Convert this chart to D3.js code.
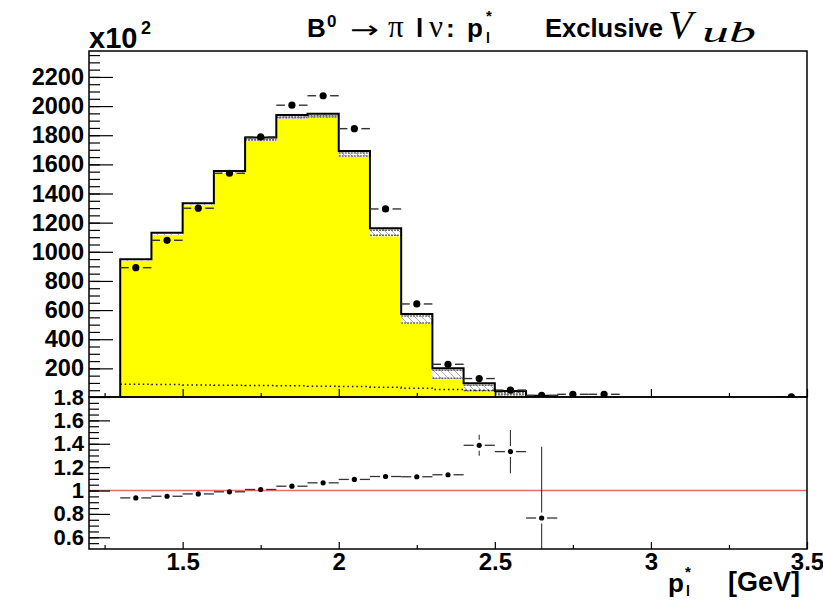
<!DOCTYPE html>
<html><head><meta charset="utf-8">
<script src="https://cdn.jsdelivr.net/npm/d3@7"></script>
<style>body{margin:0;background:#fff} svg{display:block}</style>
</head><body>
<svg id="c" width="823" height="600"></svg>
<script>
// ---- data (units of x10^2) ----
const binLow   = [1.3,1.4,1.5,1.6,1.7,1.8,1.9,2.0,2.1,2.2,2.3,2.4,2.5,2.6];
const binWidth = 0.1;
const mcTotal  = [948,1131,1333,1555,1784,1939,1948,1692,1161,573,200,97,45,12];
const mcSignal = [938,1115,1318,1541,1760,1913,1918,1651,1106,504,125,40,12,3];
const mcDotted = [91,89,86,84,82,80,77,75,71,64,55,50,40,10];
const dataX = [1.35,1.45,1.55,1.65,1.75,1.85,1.95,2.05,2.15,2.25,2.35,2.45,2.55,2.65,2.75,2.85,3.45];
const dataY = [891,1079,1299,1539,1788,2006,2071,1845,1294,642,228,130,51,14,22,22,5];
const ratioX = [1.35,1.45,1.55,1.65,1.75,1.85,1.95,2.05,2.15,2.25,2.35,2.45,2.55,2.65];
const ratioY = [0.937,0.951,0.971,0.989,1.009,1.037,1.066,1.095,1.12,1.118,1.135,1.387,1.333,0.765];
const ratioErr = [0.005,0.005,0.005,0.005,0.005,0.005,0.005,0.006,0.008,0.012,0.03,0.09,0.185,0.61];
const topTickVals = [200,400,600,800,1000,1200,1400,1600,1800,2000,2200];
const ratioTickVals = [0.6,0.8,1,1.2,1.4,1.6,1.8];
const xMajorVals = [1.5,2,2.5,3,3.5];
const xMinorVals = [1.25,1.75,2.25,2.75,3.25];

// ---- layout ----
const L=89, R=807, T=51, M=397, B=549;
const svg = d3.select("#c");
const x  = d3.scaleLinear().domain([1.2,3.5]).range([L,R]);
const yT = d3.scaleLinear().domain([0,2378]).range([397.5,T]);
const yB = d3.scaleLinear().domain([0.5,1.8]).range([B,M]);
const SANS = "'Liberation Sans', Arial, Helvetica, sans-serif";
const SERIF = "'Liberation Serif', 'Times New Roman', serif";

const defs = svg.append("defs");
const pat = defs.append("pattern").attr("id","hatch").attr("patternUnits","userSpaceOnUse")
  .attr("width",7).attr("height",7);
pat.append("rect").attr("width",7).attr("height",7).attr("fill","#fff");
pat.append("path").attr("d","M0,0 L7,7 M-2,5 L2,9 M5,-2 L9,2").attr("stroke","#999").attr("stroke-width",0.8);
defs.append("clipPath").attr("id","clipT").append("rect").attr("x",L).attr("y",T).attr("width",R-L).attr("height",M-T);
defs.append("clipPath").attr("id","clipB").append("rect").attr("x",L).attr("y",M).attr("width",R-L).attr("height",B-M);

// ---- top panel ----
const gT = svg.append("g").attr("clip-path","url(#clipT)");
const lastHi = binLow[binLow.length-1]+binWidth;
const sigPts = binLow.map((lo,i)=>[lo,mcSignal[i]]).concat([[lastHi, mcSignal[mcSignal.length-1]]]);
gT.append("path").attr("d", d3.area().x(d=>x(d[0])).y0(yT(0)).y1(d=>yT(d[1])).curve(d3.curveStepAfter)(sigPts))
  .attr("fill","#ffff00").attr("stroke","none");
binLow.forEach((lo,i)=>{
  const x0=x(lo), x1=x(lo+binWidth);
  const yt=yT(mcTotal[i]), yb=yT(mcSignal[i]);
  if (yb-yt>0.5){
    gT.append("rect").attr("x",x0).attr("y",yt).attr("width",x1-x0).attr("height",yb-yt).attr("fill","url(#hatch)");
    if (yb-yt>3){
      gT.append("line").attr("x1",x0).attr("x2",x1).attr("y1",yt+2).attr("y2",yt+2)
        .attr("stroke","#666").attr("stroke-width",1.5).attr("stroke-dasharray","2,1");
      gT.append("line").attr("x1",x0).attr("x2",x1).attr("y1",yb-1).attr("y2",yb-1)
        .attr("stroke","#666").attr("stroke-width",1.5).attr("stroke-dasharray","2,1");
    }
  }
});
// dotted component
const dotPts = binLow.map((lo,i)=>[lo,mcDotted[i]]).concat([[lastHi, mcDotted[mcDotted.length-1]]]);
gT.append("path").attr("d", d3.line().x(d=>x(d[0])).y(d=>yT(d[1])).curve(d3.curveStepAfter)(dotPts))
  .attr("fill","none").attr("stroke","#111").attr("stroke-width",1.5).attr("stroke-dasharray","1.5,3");
// total outline
const outPts = [[binLow[0],0]].concat(binLow.map((lo,i)=>[lo,mcTotal[i]])).concat([[lastHi,0]]);
gT.append("path").attr("d", d3.line().x(d=>x(d[0])).y(d=>yT(d[1])).curve(d3.curveStepAfter)(outPts))
  .attr("fill","none").attr("stroke","#000").attr("stroke-width",2);
// data points
dataX.forEach((c,i)=>{
  const cx=x(c), cy=yT(dataY[i]), gap=7;
  gT.append("line").attr("x1",x(c-binWidth/2)).attr("x2",cx-gap).attr("y1",cy).attr("y2",cy).attr("stroke","#333").attr("stroke-width",1.4);
  gT.append("line").attr("x1",cx+gap).attr("x2",x(c+binWidth/2)).attr("y1",cy).attr("y2",cy).attr("stroke","#333").attr("stroke-width",1.4);
  gT.append("circle").attr("cx",cx).attr("cy",cy).attr("r",3.6).attr("fill","#000");
});

// ---- bottom panel ----
const gB = svg.append("g").attr("clip-path","url(#clipB)");
gB.append("line").attr("x1",L).attr("x2",R).attr("y1",yB(1)).attr("y2",yB(1)).attr("stroke","#f06a6a").attr("stroke-width",1.6);
ratioX.forEach((c,i)=>{
  const cx=x(c), cy=yB(ratioY[i]), gap=5.5;
  gB.append("line").attr("x1",x(c-binWidth/2)).attr("x2",cx-gap).attr("y1",cy).attr("y2",cy).attr("stroke","#333").attr("stroke-width",1.3);
  gB.append("line").attr("x1",cx+gap).attr("x2",x(c+binWidth/2)).attr("y1",cy).attr("y2",cy).attr("stroke","#333").attr("stroke-width",1.3);
  const yu=yB(ratioY[i]+ratioErr[i]), yl=yB(ratioY[i]-ratioErr[i]);
  if (cy-yu>gap) gB.append("line").attr("x1",cx).attr("x2",cx).attr("y1",yu).attr("y2",cy-gap).attr("stroke","#333").attr("stroke-width",1.1);
  if (yl-cy>gap) gB.append("line").attr("x1",cx).attr("x2",cx).attr("y1",cy+gap).attr("y2",yl).attr("stroke","#333").attr("stroke-width",1.1);
  gB.append("circle").attr("cx",cx).attr("cy",cy).attr("r",2.6).attr("fill","#000");
});

// ---- axes ----
function style(g, fs){ g.select(".domain").remove(); g.selectAll(".tick line").attr("stroke","#000").attr("stroke-width",1.2);
  g.selectAll("text").attr("font-family",SANS).attr("font-weight","bold").attr("font-size",fs||23.5).attr("fill","#000"); }
svg.append("g").attr("transform",`translate(${L},0)`)
  .call(d3.axisLeft(yT).tickValues(d3.range(50,2378,50)).tickSize(-11).tickFormat("")).call(style);
svg.append("g").attr("transform",`translate(${L},0)`)
  .call(d3.axisLeft(yT).tickValues(topTickVals).tickSize(-24).tickPadding(5).tickFormat(d3.format("d"))).call(style);
svg.append("g").attr("transform",`translate(${L},0)`)
  .call(d3.axisLeft(yB).tickValues(d3.range(0.55,1.8,0.05)).tickSize(-10).tickFormat("")).call(style);
svg.append("g").attr("transform",`translate(${L},0)`)
  .call(d3.axisLeft(yB).tickValues(ratioTickVals).tickSize(-21).tickPadding(5).tickFormat(d3.format("~g"))).call(style, 22);
svg.append("g").attr("transform",`translate(0,${M})`)
  .call(d3.axisBottom(x).tickValues(xMajorVals).tickSize(-8).tickFormat("")).call(style);
svg.append("g").attr("transform",`translate(0,${M})`)
  .call(d3.axisBottom(x).tickValues(xMinorVals).tickSize(-4).tickFormat("")).call(style);
const gx = svg.append("g").attr("transform",`translate(0,${B})`)
  .call(d3.axisBottom(x).tickValues(xMajorVals).tickSize(-7).tickFormat(d3.format("~g"))).call(style, 24);
gx.selectAll("text").attr("y",4);
svg.append("g").attr("transform",`translate(0,${B})`)
  .call(d3.axisBottom(x).tickValues(xMinorVals).tickSize(-4).tickFormat("")).call(style);

// frames
svg.append("rect").attr("x",L).attr("y",T).attr("width",R-L).attr("height",M-T).attr("fill","none").attr("stroke","#000").attr("stroke-width",1.5);
svg.append("rect").attr("x",L).attr("y",M).attr("width",R-L).attr("height",B-M).attr("fill","none").attr("stroke","#000").attr("stroke-width",1.5);

// ---- texts ----
const t = svg.append("g").attr("fill","#000");
function txt(s,xx,yy,size,opts={}){
  return t.append("text").attr("x",xx).attr("y",yy).attr("font-size",size)
    .attr("font-family",opts.serif?SERIF:(opts.dejavu?"'DejaVu Sans', sans-serif":SANS))
    .attr("font-weight",opts.normal?"normal":"bold").attr("font-style",opts.italic?"italic":"normal")
    .attr("text-anchor",opts.anchor||"start").text(s);
}
txt("x10",89,48,29);
txt("2",141,34,18);
txt("B",307,37,26);
txt("0",327,27,17);
txt("\u2192",350,38,24,{dejavu:true,normal:true}).attr("textLength",29).attr("lengthAdjust","spacingAndGlyphs");
txt("\u03c0",388,37,31,{serif:true,normal:true});
txt("l",416,37,26);
txt("\u03bd",429,37,31,{serif:true,normal:true});
txt(":",446,37,26);
txt("p",467,37,26);
txt("l",486,43,14);
txt("*",486,21,15);
txt("Exclusive",545,37,26).attr("textLength",118).attr("lengthAdjust","spacingAndGlyphs");
txt("V",668,38,40,{serif:true,italic:true,normal:true});
txt("ub",702,42,30,{serif:true,italic:true,normal:true}).attr("textLength",54).attr("lengthAdjust","spacingAndGlyphs");
// x title
txt("p",668,592,26);
txt("l",686,596,14);
txt("*",685,577,15);
txt("[GeV]",728,591,27);
</script>
</body></html>
